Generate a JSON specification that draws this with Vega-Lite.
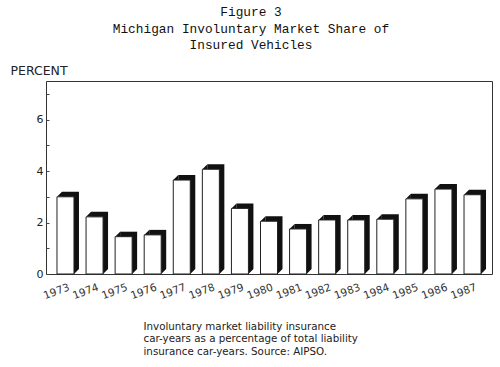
{
  "$schema": "https://vega.github.io/schema/vega-lite/v6.json",
  "autosize": "none",
  "width": 446,
  "height": 193,
  "padding": {"left": 46, "top": 81, "right": 8, "bottom": 93},
  "background": "white",
  "title": {
    "text": ["Figure 3", "Michigan Involuntary Market Share of", "Insured Vehicles"],
    "font": "Liberation Mono",
    "fontSize": 12.8,
    "fontWeight": "normal",
    "lineHeight": 16.5,
    "color": "#111",
    "anchor": "middle",
    "dx": -18,
    "offset": 12
  },
  "data": {
    "values": [
      {"year": "1973", "pct": 3.0},
      {"year": "1974", "pct": 2.22},
      {"year": "1975", "pct": 1.45},
      {"year": "1976", "pct": 1.52},
      {"year": "1977", "pct": 3.65},
      {"year": "1978", "pct": 4.07},
      {"year": "1979", "pct": 2.55},
      {"year": "1980", "pct": 2.05},
      {"year": "1981", "pct": 1.75},
      {"year": "1982", "pct": 2.1},
      {"year": "1983", "pct": 2.1},
      {"year": "1984", "pct": 2.13},
      {"year": "1985", "pct": 2.92},
      {"year": "1986", "pct": 3.3},
      {"year": "1987", "pct": 3.08}
    ]
  },
  "config": {
    "view": {"stroke": "#333", "strokeWidth": 1},
    "font": "DejaVu Sans"
  },
  "encoding": {
    "x": {
      "field": "year",
      "type": "nominal",
      "sort": null,
      "scale": {"paddingInner": 0, "paddingOuter": 0.17},
      "axis": {
        "title": ["Involuntary market liability insurance", "car-years as a percentage of total liability", "insurance car-years.  Source: AIPSO."],
        "titleFont": "DejaVu Sans",
        "titleFontSize": 10.3,
        "titleFontWeight": "normal",
        "titleColor": "#222",
        "titleLineHeight": 12.5,
        "titleAlign": "left",
        "titleAnchor": "start",
        "titleBaseline": "top",
        "titleX": 97,
        "titleY": 47,
        "labelAngle": -20,
        "labelAlign": "right",
        "labelBaseline": "top",
        "labelOffset": 2,
        "labelPadding": 8,
        "labelFontSize": 10.5,
        "labelColor": "#333",
        "ticks": false,
        "domain": false,
        "grid": false
      }
    },
    "y": {
      "field": "pct",
      "type": "quantitative",
      "scale": {"domain": [0, 7.5], "nice": false, "zero": true},
      "axis": {
        "title": "PERCENT",
        "titleAngle": 0,
        "titleAlign": "left",
        "titleBaseline": "alphabetic",
        "titleX": -36,
        "titleY": -7,
        "titleFontSize": 12.5,
        "titleFontWeight": "normal",
        "titleColor": "#222",
        "values": [0, 1, 2, 3, 4, 5, 6, 7],
        "labelExpr": "datum.value % 2 == 0 ? datum.label : ''",
        "labelFontSize": 11,
        "labelColor": "#222",
        "labelPadding": 6,
        "tickSize": -3,
        "tickColor": "#444",
        "domain": false,
        "grid": false
      }
    }
  },
  "layer": [
    {
      "mark": {"type": "bar", "size": 17, "xOffset": 5, "yOffset": -5, "color": "#111"}
    },
    {
      "mark": {"type": "point", "shape": "M-1,1L1,-1L1,1Z", "size": 25, "filled": true, "opacity": 1, "color": "#111", "xOffset": -6, "yOffset": -2.5}
    },
    {
      "mark": {"type": "point", "shape": "M-1,-1L1,-1L-1,1Z", "size": 25, "filled": true, "opacity": 1, "color": "#111", "xOffset": 11, "yOffset": -2.5},
      "encoding": {"y": {"datum": 0}}
    },
    {
      "mark": {"type": "bar", "size": 17, "fill": "white", "stroke": "#222", "strokeWidth": 1}
    }
  ]
}
